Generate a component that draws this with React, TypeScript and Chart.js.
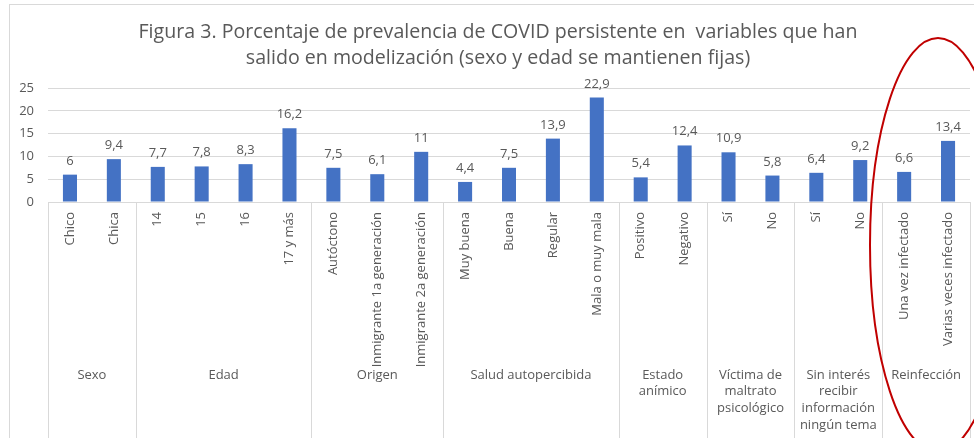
import React, { useEffect, useRef } from "react";
import { Chart, registerables } from "chart.js";

Chart.register(...registerables);

const titleLines = [
  "Figura 3. Porcentaje de prevalencia de COVID persistente en  variables que han",
  "salido en modelización (sexo y edad se mantienen fijas)",
];

const categories = [
  "Chico", "Chica",
  "14", "15", "16", "17 y más",
  "Autóctono", "Inmigrante 1a generación", "Inmigrante 2a generación",
  "Muy buena", "Buena", "Regular", "Mala o muy mala",
  "Positivo", "Negativo",
  "Sí", "No",
  "Sí", "No",
  "Una vez infectado", "Varias veces infectado",
];

const values = [
  6, 9.4,
  7.7, 7.8, 8.3, 16.2,
  7.5, 6.1, 11,
  4.4, 7.5, 13.9, 22.9,
  5.4, 12.4,
  10.9, 5.8,
  6.4, 9.2,
  6.6, 13.4,
];

const groupLabels = [
  ["Sexo"],
  ["Edad"],
  ["Origen"],
  ["Salud autopercibida"],
  ["Estado", "anímico"],
  ["Víctima de", "maltrato", "psicológico"],
  ["Sin interés", "recibir", "información", "ningún tema"],
  ["Reinfección"],
];
const groupSizes = [2, 4, 3, 4, 2, 2, 2, 2];

const yMin = 0;
const yMax = 25;
const yStep = 5;

const FONT = "'Open Sans'";
const TEXT = "#595959";
const GRID = "#D9D9D9";
const BAR = "#4472C4";

const fmt = (v: number) => String(v).replace(".", ",");

const overlay = {
  id: "overlay",
  beforeDraw(chart: any) {
    const ctx = chart.ctx;
    ctx.save();
    ctx.fillStyle = "#ffffff";
    ctx.fillRect(0, 0, chart.width, chart.height);
    ctx.strokeStyle = GRID;
    ctx.lineWidth = 1;
    ctx.strokeRect(9.5, 4.5, 1200, 800);
    ctx.restore();
  },
  afterDatasetsDraw(chart: any) {
    const ctx = chart.ctx;
    const meta = chart.getDatasetMeta(0);
    ctx.save();
    ctx.fillStyle = TEXT;
    ctx.font = `13px ${FONT}`;
    ctx.textAlign = "center";
    ctx.textBaseline = "alphabetic";
    meta.data.forEach((bar: any, i: number) => {
      ctx.fillText(fmt(values[i]), bar.x, bar.y - 10);
    });
    ctx.restore();
  },
  afterDraw(chart: any) {
    const ctx = chart.ctx;
    const { left, right, bottom } = chart.chartArea;
    const xs = chart.scales.x;
    const n = categories.length;
    const bounds: number[] = [left];
    let idx = 0;
    groupSizes.forEach((s) => {
      idx += s;
      if (idx >= n) bounds.push(right);
      else bounds.push((xs.getPixelForValue(idx - 1) + xs.getPixelForValue(idx)) / 2);
    });
    ctx.save();
    ctx.strokeStyle = GRID;
    ctx.lineWidth = 1;
    bounds.forEach((b) => {
      const x = Math.round(b) + 0.5;
      ctx.beginPath();
      ctx.moveTo(x, bottom);
      ctx.lineTo(x, chart.height);
      ctx.stroke();
    });
    // group labels
    ctx.fillStyle = TEXT;
    ctx.font = `13px ${FONT}`;
    ctx.textAlign = "center";
    ctx.textBaseline = "middle";
    groupLabels.forEach((lines, g) => {
      const cx = (bounds[g] + bounds[g + 1]) / 2;
      lines.forEach((line, k) => {
        ctx.fillText(line, cx, 375 + k * 16.7);
      });
    });
    // title
    ctx.font = `19.6px ${FONT}`;
    ctx.textBaseline = "alphabetic";
    titleLines.forEach((line, k) => {
      ctx.fillText(line, 498, 38 + k * 25.5);
    });
    // red ellipse
    ctx.strokeStyle = "#C00000";
    ctx.lineWidth = 2;
    ctx.beginPath();
    ctx.ellipse(938, 245, 68, 207, 0, 0, Math.PI * 2);
    ctx.stroke();
    ctx.restore();
  },
};

export default function App() {
  const ref = useRef<HTMLCanvasElement | null>(null);
  useEffect(() => {
    if (!ref.current) return;
    const chart = new Chart(ref.current, {
      type: "bar",
      data: {
        labels: categories,
        datasets: [
          {
            data: values,
            backgroundColor: BAR,
            borderWidth: 0,
            categoryPercentage: 1,
            barPercentage: 0.32,
          },
        ],
      },
      options: {
        responsive: false,
        animation: false,
        devicePixelRatio: 1,
        layout: { padding: { top: 88, right: 4, left: 0, bottom: 0 } },
        plugins: {
          legend: { display: false },
          title: { display: false },
          tooltip: { enabled: false },
        },
        scales: {
          x: {
            grid: { display: false, drawTicks: false },
            border: { display: false },
            afterFit: (s: any) => {
              s.height = 236;
            },
            ticks: {
              autoSkip: false,
              minRotation: 90,
              maxRotation: 90,
              padding: 10,
              color: TEXT,
              font: { family: "Open Sans", size: 13 },
            },
          },
          y: {
            min: yMin,
            max: yMax,
            grid: { color: GRID, drawTicks: false },
            border: { display: false },
            afterFit: (s: any) => {
              s.width = 48;
            },
            ticks: {
              stepSize: yStep,
              padding: 14,
              color: TEXT,
              font: { family: "Open Sans", size: 13 },
            },
          },
        },
      },
      plugins: [overlay],
    });
    return () => chart.destroy();
  }, []);
  return (
    <div style={{ position: "absolute", left: 0, top: 0, width: 974, height: 438 }}>
      <canvas ref={ref} width={974} height={438} style={{ width: 974, height: 438, display: "block" }} />
    </div>
  );
}
